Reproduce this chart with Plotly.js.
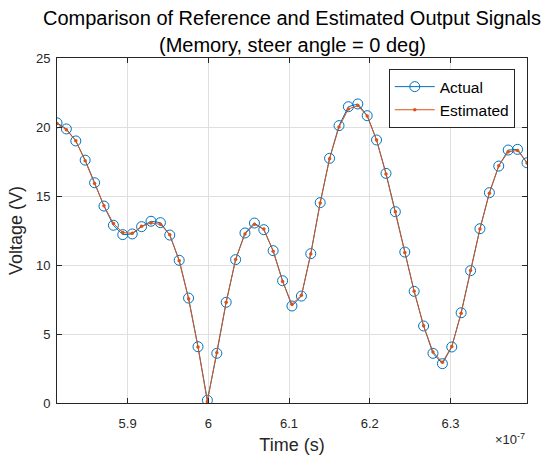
<!DOCTYPE html>
<html>
<head>
<meta charset="utf-8">
<script src="https://cdn.plot.ly/plotly-3.0.1.min.js"></script>
<style>html,body{margin:0;padding:0;background:#fff;}#chart{width:546px;height:455px;}</style>
</head>
<body>
<div id="chart"></div>
<script>
// Time in units of 1e-7 s
const timeE7 = [5.8125,5.8241,5.8358,5.8474,5.8591,5.8707,5.8824,5.8940,5.9057,5.9173,
  5.9290,5.9406,5.9522,5.9639,5.9755,5.9872,5.9988,6.0105,6.0221,6.0338,
  6.0454,6.0571,6.0687,6.0803,6.0920,6.1036,6.1153,6.1269,6.1386,6.1502,
  6.1619,6.1735,6.1852,6.1968,6.2084,6.2201,6.2317,6.2434,6.2550,6.2667,
  6.2783,6.2900,6.3016,6.3132,6.3249,6.3365,6.3482,6.3598,6.3715,6.3831,6.3948];
const actual = [20.3,19.86,18.99,17.6,15.96,14.27,12.88,12.2,12.25,12.78,
  13.17,13.07,12.17,10.34,7.6,4.08,0.2,3.6,7.3,10.39,
  12.32,13.04,12.56,11.04,8.86,7.03,7.75,10.82,14.52,17.73,
  20.1,21.47,21.67,20.82,19.06,16.64,13.86,10.94,8.09,5.58,
  3.6,2.85,4.06,6.54,9.59,12.63,15.24,17.17,18.33,18.38,17.41];
const estimated = [20.25,19.8,19.0,17.55,15.9,14.3,13.0,12.35,12.3,12.8,
  13.05,12.95,12.2,10.3,7.55,4.05,0.1,3.65,7.3,10.4,
  12.25,12.95,12.6,11.0,8.8,7.15,7.8,10.8,14.5,17.7,
  20.0,21.3,21.55,20.8,19.05,16.6,13.85,10.9,8.1,5.6,
  3.7,2.95,4.1,6.5,9.6,12.6,15.2,17.2,18.2,18.3,17.4];
const xTickVals = [5.9,6.0,6.1,6.2,6.3];
const xTickText = ['5.9','6','6.1','6.2','6.3'];
const yTickVals = [0,5,10,15,20,25];
const seriesNames = ['Actual','Estimated'];
const titleLines = ['Comparison of Reference and Estimated Output Signals','(Memory, steer angle = 0 deg)'];

const axisCol = '#262626';
const gridCol = '#dfdfdf';
const fontFam = 'Liberation Sans, Arial, sans-serif';

const traces = [
  {x: timeE7, y: actual, name: seriesNames[0], type: 'scatter', mode: 'lines+markers',
   line: {color: '#0072BD', width: 1},
   marker: {symbol: 'circle-open', size: 10, color: '#0072BD', line: {width: 1}}},
  {x: timeE7, y: estimated, name: seriesNames[1], type: 'scatter', mode: 'lines+markers',
   line: {color: '#D95319', width: 1},
   marker: {symbol: 'circle', size: 3.5, color: '#D95319'}}
];

const layout = {
  width: 546, height: 455,
  margin: {l: 57, r: 19, t: 58, b: 52},
  paper_bgcolor: '#fff', plot_bgcolor: '#fff',
  font: {family: fontFam, color: axisCol},
  showlegend: true,
  xaxis: {range: [timeE7[0], timeE7[timeE7.length-1]],
    tickvals: xTickVals, ticktext: xTickText,
    ticks: 'inside', ticklen: 5, tickcolor: axisCol, tickwidth: 1,
    showline: true, linecolor: axisCol, linewidth: 1, mirror: 'ticks',
    showgrid: true, gridcolor: gridCol, zeroline: false,
    ticklabelstandoff: 8,
    tickfont: {size: 13, color: axisCol},
    title: {text: 'Time (s)', font: {size: 18, color: axisCol}, standoff: 9}},
  yaxis: {range: [0, 25], tickvals: yTickVals,
    ticks: 'inside', ticklen: 5, tickcolor: axisCol, tickwidth: 1,
    showline: true, linecolor: axisCol, linewidth: 1, mirror: 'ticks',
    showgrid: true, gridcolor: gridCol, zeroline: false,
    ticklabelstandoff: 3,
    tickfont: {size: 13, color: axisCol},
    title: {text: 'Voltage (V)', font: {size: 18, color: axisCol}, standoff: 8}},
  legend: {x: 0.974, xanchor: 'right', y: 0.968, yanchor: 'top',
    bgcolor: '#fff', bordercolor: axisCol, borderwidth: 1, itemwidth: 40,
    font: {size: 15.5, color: '#000'}, tracegroupgap: 0},
  annotations: [
    {text: titleLines[0], xref: 'paper', yref: 'paper', x: 0.5, xanchor: 'center',
     y: 1.116, yanchor: 'middle', showarrow: false, font: {size: 20, color: '#000'}},
    {text: titleLines[1], xref: 'paper', yref: 'paper', x: 0.5, xanchor: 'center',
     y: 1.038, yanchor: 'middle', showarrow: false, font: {size: 20, color: '#000'}},
    {text: '×10<sup>-7</sup>', xref: 'paper', yref: 'paper',
     x: 1.0, xanchor: 'right', y: -0.105, yanchor: 'middle', showarrow: false,
     font: {size: 13, color: axisCol}}]
};

Plotly.newPlot('chart', traces, layout, {displayModeBar: false, staticPlot: true});
</script>
</body>
</html>
